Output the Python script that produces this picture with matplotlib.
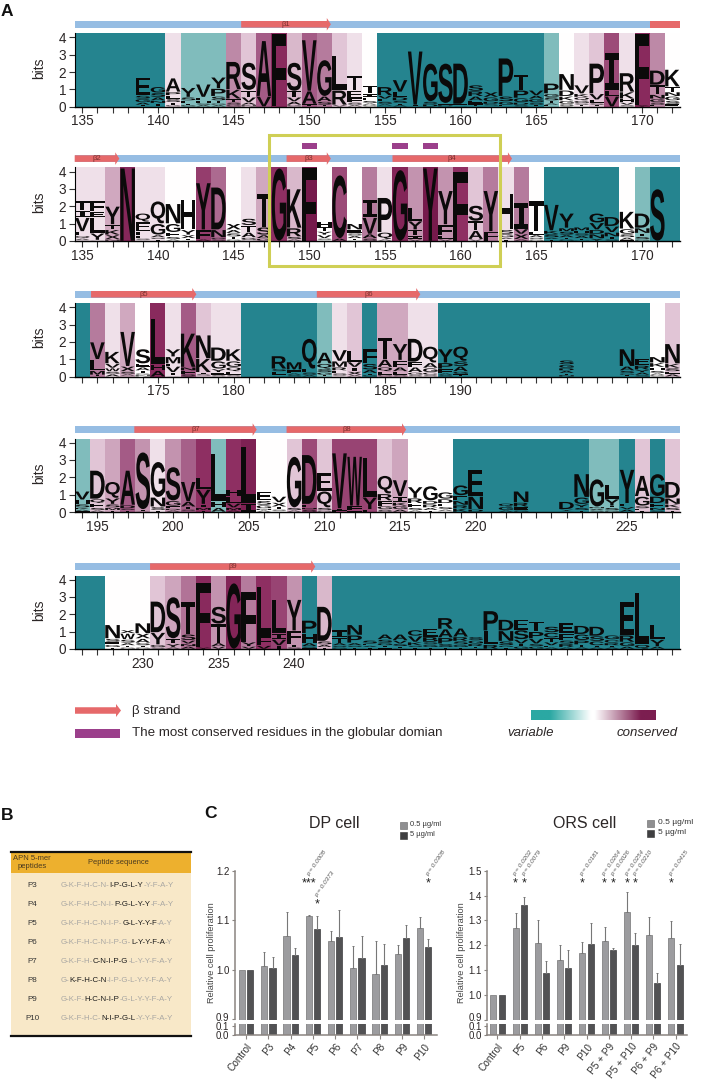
import numpy as np
import matplotlib
matplotlib.use("Agg")
import matplotlib.pyplot as plt
from matplotlib.colors import LinearSegmentedColormap
from matplotlib.font_manager import FontProperties
from matplotlib.patches import FancyArrow, PathPatch, Rectangle
from matplotlib.path import Path
from matplotlib.textpath import TextPath
from matplotlib.transforms import Affine2D, ScaledTranslation

plt.rcParams['font.family'] = ['Liberation Sans', 'DejaVu Sans']

# conservation shading per column: -1 variable ... 1 conserved
row1_shade = [-1, -1, -1, -1, -1, -1, .15, -.5, -.5, -.5, .55, .3, .7, .88, .35, .7, .6, .3, .15, 0,
              -1, -1, -1, -1, -1, -1, -1, -1, -1, -1, -1, -.5, 0, .15, .3, .75, .15, .88, .55, 0]
row2_shade = [.15, .15, .4, .9, .15, .15, 0, 0, .8, .65, 0, .15, .4, .85, .35, 1, 0, .75, 0, .6,
              .15, .92, .5, 1, .5, .85, .3, .6, .15, .6, 0, -1, -1, -1, -1, -1, 0, -.5, -1, -1]
row3_shade = [-1, .6, .15, .4, 0, .88, .15, .7, .3, .15, .15, -1, -1, -1, -1, -1, -.5, .15, .3, -1,
              .4, .4, .15, .15, -1, -1, -1, -1, -1, -1, -1, -1, -1, -1, -1, -1, -1, -1, 0, .3]
row4_shade = [-.5, .3, .42, .7, .5, .15, .5, .68, .85, -.5, .85, .95, 0, 0, .3, .75, .3, .78, .78, .78,
              .3, .42, 0, 0, 0, -1, -1, -1, -1, -1, -1, -1, -1, -1, -.5, -.5, -1, .3, -1, .3]
row5_shade = [-1, -1, 0, 0, 0, .3, .42, .62, .88, .5, .92, .6, .85, .78, .5, -1, .35, -1, -1, -1,
              -1, -1, -1, -1, -1, -1, -1, -1, -1, -1, -1, -1, -1, -1, -1, -1, -1, -1, -1, -1]

# logo stacks, top letter first, letter + height in bits
row1_logo = ["", "", "", "", "E1.05 S.2 G.2 A.15 T.1", "G.35 S.25 A.2 N.15 T.2", "A.8 P.2 E.2 S.2 T.15 G.1",
             "Y.55 S.2 E.15 T.1 G.1", "V.75 F.2 H.15 S.1 A.1", "Y.65 P.45 S.25 T.15 G.1 A.1",
             "R1.6 K.55 T.2 S.15 G.1", "S1.6 T.4 V.3 A.15 N.1", "A3.2 V.6", "F4.2", "S1.65 T.35 V.25 A.2 G.1",
             "V2.95 A.75 T.15", "G2.1 A.3 S.2 T.1", "L2 R.85 V.1", "T.85 E.45 F.25 S.15 A.1",
             "T.45 I.2 E.2 S.15 A.1 G.1", "R.5 V.2 L.15 S.15 A.1 T.05", "V.7 L.3 D.2 S.15 T.1 A.1", "V3.1 I.1",
             "G2.2 S.15 D.15", "S2.3 E.1 D.1", "D2.35 E.1 S.05", "S.35 R.3 A.25 E.2 T.15", "X.3 G.25 D.15 S.1 T.05",
             "P2.2 S.3 G.2 E.1", "T.9 P.45 G.25 D.15 S.1", "V.3 A.2 G.2 S.15 T.1", "P.6 G.2 S.2 T.15 A.1 E.1",
             "N.95 D.35 K.25 G.2 S.15", "V.5 K.2 Q.2 G.15 S.1 T.1", "P1.75 V.35 L.2 S.1 T.1", "I2.15 L.35 V.6",
             "R1.1 K.4 H.2 V.15 S.1", "F4.1 Y.1", "D.85 T.55 N.25 G.2 S.15 E.1", "K1 T.3 N.25 G.25 S.2 E.15"]
row2_logo = ["T.55 I.4 V.8 L.25 Q.15 A.1 S.05", "F.6 E.35 L.9 Y.4 G.05", "Y1.05 T.3 K.3 X.25 N.1", "N4.2",
             "Q.5 E.55 F.25 L.15 S.1 A.05", "Q1.3 G.65 A.15 S.1 T.1", "N1.15 G.5 E.25 S.15 A.1",
             "H1.75 Y.3 X.2 T.1 S.05", "Y2.7 F.55 A.1", "D2.45 N.45 G.1 S.1", "X.35 A.2 S.2 T.15 G.1",
             "S.4 T.4 A.3 G.15 N.05", "T1.95 S.45 A.2 G.15", "G4.2", "K2.25 R.5 S.15 A.1", "F4.2",
             "H.3 T.25 Y.2 V.2 S.1 A.05", "C3.65 A.15", "N.35 E.2 S.15 A.15 T.1 G.05", "I1.05 V.95 A.25 S.15",
             "P2 Q.4 A.1", "G4.1", "L.75 Y.5 T.35 I.2 V.1", "Y4.2", "Y1.95 F.65 L.2 V.1", "F4", "S.9 T.55 A.5 V.1",
             "Y2.35 F.55", "H2.1 S.25 G.2 A.1 T.1", "I1.5 V.3 X.3 A.1", "T1.75 L.2 A.15 S.1 G.1",
             "V1.5 K.2 S.2 A.1 T.1", "Y.85 M.2 S.2 A.15 T.1 G.1", "M.2 H.15 S.15 A.15 T.1 N.05",
             "G.55 V.4 D.25 N.25 Y.15", "D.55 V.35 N.25 T.15 S.1", "K1 G.3 S.2 A.15 T.05",
             "D.85 N.3 T.2 S.15 G.1", "S3", ""]
row3_logo = ["", "V1 L.65 M.25 T.1", "K.7 V.25 W.2 S.15 A.15", "V2 X.3 S.15 A.1 T.05", "S.85 E.2 A.2 T.15 G.1 N.1",
             "L2.65 H.35 A.35", "Y.45 M.4 F.15 V.35 I.2 A.05", "K1.95 N.2 F.2 S.15", "N1.35 K.8 I.1 S.1 T.05",
             "D.8 G.45 Y.2 E.15 S.1", "K.7 G.35 Q.25 E.2 S.1", "", "", "R.75 S.15 F.15 T.1 G.05", "M.45 F.2 A.1 S.1",
             "Q1.75 L.2 S.15 A.1", "A.65 Q.3 S.2 G.15 T.1", "V.65 M.35 R.2 L.15 S.15 A.05", "L.65 V.3 I.25 X.2 A.1",
             "F.85 S.35 A.2 T.1 G.1", "T1.25 A.45 Q.25 L.2 G.1", "Y.95 F.4 A.25 L.2 S.1", "D1.35 F.3 A.3 G.15 S.1",
             "Q.95 A.3 G.25 C.15 S.1", "Y.8 P.35 F.25 A.1 S.1", "Q.85 S.3 A.3 G.15 T.15", "", "", "", "", "", "",
             "S.25 G.2 D.15 A.15 T.1 N.1", "", "", "", "N1 A.25 S.15 G.1 T.1", "E.4 R.25 Y.15 A.15 S.1",
             "N.35 K.25 H.2 S.15 A.1 G.1", "N1.15 K.25 S.2 E.15 A.15"]
row4_logo = ["V.5 H.25 S.2 K.1 A.1 T.05", "D1.65 Q.25 E.25 S.15 A.1", "Q.95 Y.35 S.2 M.15 T.1", "A2 D.2 S.1 T.1",
             "S3.3 T.1 A.05", "G2.05 N.55 S.2 T.1", "S1.95 G.3 F.15 D.1 A.1", "V1.15 A.3 T.15 S.1 G.05", "L.7 Y.85 I.2 M.15 T.1",
             "L2.75 H.35 A.25", "H.4 L.4 V.25 M.15 A.1", "L3.25 I.5", "E.55 S.25 G.2 N.1 A.1", "V.35 X.25 T.15 S.1 A.05",
             "G2.95 S.15 A.1", "D2.85 E.2 N.1 S.15", "E1.05 Q.95 S.15 G.1", "V3.2 I.15 L.05", "W2.85 F.25 L.1",
             "L2.3 Y.7 F.15", "Q1.05 R.4 F.3 G.2 S.15", "V.95 I.35 K.2 G.2 A.15", "Y.65 R.3 E.25 S.15 A.1",
             "G.85 D.2 R.2 A.15 T.1", "G.4 D.25 E.2 S.15 A.1 N.05", "G.6 E.3 N.25 R.2 K.2", "E1.55 N.75 D.15", "", "Q.2 G.2 A.1",
             "N.65 R.25 E.2 G.1", "", "", "D.45 Y.1 S.05", "N1.35 G.4 Y.2 S.15 T.1", "G1.6 N.1 A.1 S.1", "L.85 Y.4 T.1 S.15 G.1",
             "Y1.95 L.2 V.15 A.15", "A1.2 G.55 S.15 E.1 T.1", "G1.3 D.4 E.25 N.15 S.1", "D.95 N.35 K.2 S.15 T.1"]
row5_logo = ["", "", "N.8 S.2 E.15 G.15 T.1", "X.2 W.35 S.2 A.15 T.1 G.1", "N.6 X.3 A.25 S.15 T.1 G.1",
             "D1.8 Y.7 G.15 S.1", "S2.4 T.3 Y.2 A.1", "T1.9 S.35 V.2 N.15 A.15", "F3.75 Y.1", "S1 T1.1 A.2 V.15",
             "G3.8", "F2.9 Y.25 V.15", "L2.9 F.5 V.2", "L1.95 I.35 V.35 T.2", "Y1.8 F.65 L.15 T.15 S.1",
             "P.75 H.55 A.2 S.1 T.05", "D2 S.2 A.15 T.1", "I.45 T.3 A.15 S.1 G.1", "N.6 P.45 A.15 S.1 T.1",
             "S.2 E.1 A.1 T.1", "A.3 S.2 G.15 T.1 E.1", "A.35 V.2 S.15 T.1 G.05", "C.35 V.35 K.2 S.1 T.1",
             "E.5 B.3 S.15 G.15 T.1", "R.65 A.5 P.35 S.2 T.1", "A.5 R.25 S.2 G.15 T.1", "S.2 G.2 R.15 T.1 A.05",
             "P1.15 L.8 R.25", "D.65 N.6 S.25 G.1 T.1", "E.6 S.55 V.25 T.15 G.15", "T.6 P.4 V.3 S.15 G.15",
             "S.35 C.3 T.25 V.2 E.1 A.1", "E.6 F.4 S.2 R.2 A.1", "D.5 G.35 P.25 T.15 A.1", "D.55 S.3 C.25 T.1 A.1",
             "G.25 C.2 R.15 T.1 A.1", "E1.95 R.4 G.25 A.15", "L3 Q.25", "L.85 Y.4 A.15", ""]

# tick labels: (column index, residue)
row1_labels = [(0, 135), (5, 140), (10, 145), (15, 150), (20, 155), (25, 160), (30, 165), (37, 170)]
row2_labels = [(0, 135), (5, 140), (10, 145), (15, 150), (20, 155), (25, 160), (30, 165), (37, 170)]
row3_labels = [(5, 175), (10, 180), (20, 185), (25, 190)]
row4_labels = [(1, 195), (6, 200), (11, 205), (16, 210), (21, 215), (26, 220), (36, 225)]
row5_labels = [(4, 230), (9, 235), (14, 240)]

# strands: (name, start edge, end edge, arrow head)
row1_strands = [("β1", 10.5, 16.43, True), ("", 37.5, 39.5, False)]
row2_strands = [("β2", -0.5, 2.45, True), ("β3", 13.5, 16.43, True), ("β4", 20.5, 28.4, True)]
row3_strands = [("β5", 0.58, 7.54, True), ("β6", 15.5, 22.34, True)]
row4_strands = [("β7", 3.44, 11.53, True), ("β8", 13.5, 21.4, True)]
row5_strands = [("β9", 4.48, 15.4, True)]
row2_conserved = [15, 21, 23]

row_top = [33.3, 167.5, 303, 438.5, 575.5]
row_base = [106.7, 241, 376.7, 512, 649]

# panel B
peptides = ["P3", "P4", "P5", "P6", "P7", "P8", "P9", "P10"]
seq_parts = [("G-K-F-H-C-N-", "I-P-G-L-Y", "-Y-F-A-Y"),
             ("G-K-F-H-C-N-I-", "P-G-L-Y-Y", "-F-A-Y"),
             ("G-K-F-H-C-N-I-P-", "G-L-Y-Y-F", "-A-Y"),
             ("G-K-F-H-C-N-I-P-G-", "L-Y-Y-F-A", "-Y"),
             ("G-K-F-H-", "C-N-I-P-G", "-L-Y-Y-F-A-Y"),
             ("G-", "K-F-H-C-N", "-I-P-G-L-Y-Y-F-A-Y"),
             ("G-K-F-", "H-C-N-I-P", "-G-L-Y-Y-F-A-Y"),
             ("G-K-F-H-C-", "N-I-P-G-L", "-Y-Y-F-A-Y")]

# panel C, bar value and top of error bar
dp_groups = ["Control", "P3", "P4", "P5", "P6", "P7", "P8", "P9", "P10"]
dp_low = [1.000, 1.008, 1.069, 1.109, 1.058, 1.005, 0.991, 1.032, 1.085]
dp_low_top = [1.000, 1.036, 1.118, 1.112, 1.078, 1.048, 1.058, 1.050, 1.108]
dp_high = [1.000, 1.005, 1.030, 1.082, 1.067, 1.025, 1.011, 1.065, 1.047]
dp_high_top = [1.000, 1.026, 1.044, 1.110, 1.121, 1.068, 1.052, 1.090, 1.062]
# (bar index, -1 low / 1 high, stars, star y, p value)
dp_marks = [(3, -1, "***", 1.178, "0.0008"), (3, 1, "*", 1.137, "0.0373"), (8, 1, "*", 1.178, "0.0308")]

ors_groups = ["Control", "P5", "P6", "P9", "P10", "P5 + P9", "P5 + P10", "P6 + P9", "P6 + P10"]
ors_low = [1.0, 1.27, 1.21, 1.14, 1.17, 1.218, 1.335, 1.243, 1.23]
ors_low_top = [1.0, 1.33, 1.30, 1.20, 1.213, 1.273, 1.415, 1.315, 1.298]
ors_high = [1.0, 1.362, 1.088, 1.108, 1.207, 1.182, 1.203, 1.048, 1.122]
ors_high_top = [1.0, 1.395, 1.138, 1.18, 1.29, 1.19, 1.248, 1.09, 1.205]
ors_marks = [(1, -1, "*", 1.455, "0.0202"), (1, 1, "*", 1.455, "0.0079"), (4, -1, "*", 1.455, "0.0181"),
             (5, -1, "*", 1.455, "0.0264"), (5, 1, "*", 1.455, "0.0026"), (6, -1, "*", 1.455, "0.0254"),
             (6, 1, "*", 1.455, "0.0210"), (8, -1, "*", 1.455, "0.0415")]

W, H = 709, 1079
fig = plt.figure(figsize=(W / 100, H / 100), dpi=100)

TEXT = '#2b2626'
RED = '#e6696a'
BLUE = '#96bde3'
PURPLE = '#9b3f8b'
nodes = [(-1, '#25848f'), (-.5, '#80bcbc'), (0, '#ffffff'), (.15, '#efe1e9'), (.3, '#e1c6d6'), (.4, '#d0a9c0'),
         (.55, '#bd8aa8'), (.7, '#a45c86'), (.85, '#8e2f62'), (1, '#761a4c')]
shade_cmap = LinearSegmentedColormap.from_list('shade', [((v + 1) / 2, c) for v, c in nodes])
letter_font = FontProperties(family='Liberation Sans', weight='bold')
# the sans I would fill its cell as a block, the logo has a serif one
serif_i_font = FontProperties(family='DejaVu Sans Mono', weight='bold')


def px_axes(left, top, right, bottom):
    return fig.add_axes([left / W, 1 - bottom / H, (right - left) / W, (bottom - top) / H])


def draw_letter(ax, ch, x, y, h):
    # stretch the glyph to fill its cell
    path = TextPath((0, 0), ch, size=1, prop=serif_i_font if ch == 'I' else letter_font)
    ext = path.get_extents()
    tr = Affine2D().translate(-ext.x0, -ext.y0).scale(0.96 / ext.width, h / ext.height).translate(x - 0.48, y)
    ax.add_patch(PathPatch(Path(path.vertices, path.codes), transform=tr + ax.transData,
                           fc='#0b0a0a', ec='none', clip_on=False))


def draw_logo(top, base, shade, logo, labels, strands):
    ax = px_axes(74.7, top, 680, base)
    x = np.arange(40)
    colors = shade_cmap((np.array(shade) + 1) / 2)
    ax.bar(x, 4.3, width=1, color=colors, linewidth=0)
    for i, col in enumerate(logo):
        stack = col.split()
        y = sum(float(s[1:]) for s in stack)
        for s in stack:
            h = float(s[1:])
            y -= h
            draw_letter(ax, s[0], i, y + 0.02, h - 0.04)
    ax.set_xlim(-0.5, 39.5)
    ax.set_ylim(0, (base - top) / 17.35)
    ax.set_xticks(x)
    ax.set_xticklabels([""] * 40)
    ax.set_yticks(range(5))
    ax.tick_params(axis='y', length=4, width=0.8, labelsize=9.8, pad=2, labelcolor=TEXT, color='#333333')
    ax.tick_params(axis='x', length=4, width=0.8, color='#333333')
    for idx, lab in labels:
        ax.text(idx, -0.85, str(lab), ha='center', va='center', fontsize=9.8, color=TEXT)
    ax.set_ylabel("bits", fontsize=10, color=TEXT)
    ax.yaxis.set_label_coords((46 - 74.7) / (680 - 74.7), 0.53)
    for s in ['top', 'right']:
        ax.spines[s].set_visible(False)
    ax.spines['bottom'].set_linewidth(1.0)
    ax.spines['left'].set_linewidth(0.8)
    # secondary structure bar
    yb = 4.75
    ax.add_patch(Rectangle((-0.5, yb - 0.19), 40, 0.38, fc=BLUE, ec='none', clip_on=False))
    for name, x0, x1, head in strands:
        if head:
            ax.add_patch(FancyArrow(x0, yb, x1 - x0, 0, width=0.38, head_width=0.72, head_length=0.27,
                                    length_includes_head=True, fc=RED, ec='none', clip_on=False))
        else:
            ax.add_patch(Rectangle((x0, yb - 0.19), x1 - x0, 0.38, fc=RED, ec='none', clip_on=False))
        if name:
            ax.text((x0 + x1) / 2, yb, name, ha='center', va='center', fontsize=5.5, color='#7a3030')
    return ax


shades = [row1_shade, row2_shade, row3_shade, row4_shade, row5_shade]
logos = [row1_logo, row2_logo, row3_logo, row4_logo, row5_logo]
labels = [row1_labels, row2_labels, row3_labels, row4_labels, row5_labels]
strands = [row1_strands, row2_strands, row3_strands, row4_strands, row5_strands]
logo_axes = []
for r in range(5):
    logo_axes.append(draw_logo(row_top[r], row_base[r], shades[r], logos[r], labels[r], strands[r]))

ax2 = logo_axes[1]
for c in row2_conserved:
    ax2.add_patch(Rectangle((c - 0.5, 5.33), 1, 0.33, fc=PURPLE, ec='none', clip_on=False))
ax2.add_patch(Rectangle((12.35, -1.43), 15.28, 7.52, fc='none', ec='#cfcf55', lw=2.2, clip_on=False, zorder=5))

# overlay for panel letters, legends and titles
ov = fig.add_axes([0, 0, 1, 1], zorder=10)
ov.set_xlim(0, W)
ov.set_ylim(H, 0)
ov.axis('off')
ov.patch.set_alpha(0)
ov.text(1, 11, "A", fontsize=12.5, fontweight='bold', va='center', color='#111111')
ov.text(1, 815, "B", fontsize=12.5, fontweight='bold', va='center', color='#111111')
ov.text(204, 814, "C", fontsize=12.5, fontweight='bold', va='center', color='#111111')

ov.add_patch(FancyArrow(75, 710.5, 46, 0, width=6.5, head_width=13, head_length=5,
                        length_includes_head=True, fc=RED, ec='none'))
ov.add_patch(Rectangle((75, 728.5), 45, 9.5, fc=PURPLE, ec='none'))
ov.text(132, 711, "β strand", fontsize=9.6, va='center', color=TEXT)
ov.text(132, 733, "The most conserved residues in the globular domian", fontsize=9.6, va='center', color=TEXT)
bar_cmap = LinearSegmentedColormap.from_list('legend', [(0, '#2ba8a3'), (.15, '#2ba8a3'), (.48, '#ffffff'),
                                                        (.51, '#ffffff'), (.88, '#7c1e50'), (1, '#7c1e50')])
ov.imshow(np.linspace(0, 1, 256).reshape(1, -1), cmap=bar_cmap, extent=(531, 656, 720, 710), aspect='auto')
ov.set_xlim(0, W)
ov.set_ylim(H, 0)
ov.text(530.5, 733, "variable", fontsize=9.5, style='italic', ha='center', va='center', color=TEXT)
ov.text(647, 733, "conserved", fontsize=9.5, style='italic', ha='center', va='center', color=TEXT)

# panel B table
tb = px_axes(11, 851.7, 191, 1035.7)
tb.set_xlim(11, 191)
tb.set_ylim(1035.7, 851.7)
tb.axis('off')
tb.add_patch(Rectangle((11, 851.7), 180, 21, fc='#edb02e', ec='none'))
tb.add_patch(Rectangle((11, 872.7), 180, 163, fc='#f8e8c8', ec='none'))
tb.plot([11, 191], [852, 852], color='#111111', lw=1.6, clip_on=False)
tb.plot([11, 191], [1035.5, 1035.5], color='#111111', lw=1.6, clip_on=False)
tb.text(32, 862.5, "APN 5-mer\npeptides", fontsize=5.5, ha='center', va='center', color='#4a3a20', linespacing=1.1)
tb.text(118, 863, "Peptide sequence", fontsize=5.4, ha='center', va='center', color='#4a3a20')
for i, (name, parts) in enumerate(zip(peptides, seq_parts)):
    y = 885.7 + 19 * i
    tb.text(32, y, name, fontsize=5.8, ha='center', va='center', color='#333333')
    t = tb.text(60.7, y, parts[0], fontsize=5.7, va='center', color='#a9a7a3')
    t = tb.annotate(parts[1], xy=(1, 0.5), xycoords=t, va='center', fontsize=5.7, color='#1c1c1c')
    tb.annotate(parts[2], xy=(1, 0.5), xycoords=t, va='center', fontsize=5.7, color='#a9a7a3')

GREY = '#8a8480'


def draw_bars(left, right, x_first, upper_lim, upper_ticks, y09, y_top, groups, low, low_top, high, high_top,
              marks, title, title_x, legend_x, legend_y, legend_size, label_x):
    unit = 22.25
    xlim = ((left - x_first) / unit, (right - x_first) / unit)
    up = px_axes(left, y_top, right, y09)
    lo = px_axes(left, 1024, right, 1034.6)
    x = np.arange(len(groups))
    for ax in (up, lo):
        ax.bar(x - 0.185, low, width=0.28, color='#9c9c9f', edgecolor='#747476', linewidth=0.5)
        ax.bar(x + 0.185, high, width=0.28, color='#525254', edgecolor='#3d3d3f', linewidth=0.5)
        ax.set_xlim(*xlim)
        for s in ['top', 'right']:
            ax.spines[s].set_visible(False)
        ax.spines['left'].set_color(GREY)
        ax.spines['left'].set_linewidth(1.1)
        ax.tick_params(axis='y', length=2.5, width=0.8, color=GREY, labelsize=7, pad=1.5, labelcolor=TEXT)
    err_low = np.array(low_top[1:]) - np.array(low[1:])
    err_high = np.array(high_top[1:]) - np.array(high[1:])
    up.errorbar(x[1:] - 0.185, low[1:], yerr=[np.zeros(len(err_low)), err_low], fmt='none', ecolor='#777777',
                elinewidth=0.8, capsize=1, capthick=0.7)
    up.errorbar(x[1:] + 0.185, high[1:], yerr=[np.zeros(len(err_high)), err_high], fmt='none', ecolor='#777777',
                elinewidth=0.8, capsize=1, capthick=0.7)
    up.set_ylim(*upper_lim)
    up.set_yticks(upper_ticks)
    up.set_yticklabels([f"{t:.1f}" for t in upper_ticks])
    up.set_xticks([])
    up.spines['bottom'].set_visible(False)
    up.patch.set_alpha(0)
    up.set_ylabel("Relative cell proliferation", fontsize=6.6, color='#444444')
    up.yaxis.set_label_coords((label_x + 4.5 - left) / (right - left), (y09 - 953) / (y09 - y_top))
    lo.set_ylim(0, 0.122)
    lo.set_yticks([0, 0.1])
    lo.set_yticklabels(["0.0", "0.1"])
    # keep the 0.9 and 0.1 labels apart at the break
    lab09 = up.get_yticklabels()[0]
    lab09.set_transform(lab09.get_transform() + ScaledTranslation(0, 2 / 72, fig.dpi_scale_trans))
    lo.set_xticks(x)
    lo.set_xticklabels(groups, rotation=52, ha='right', rotation_mode='anchor', fontsize=7.2, color='#333333')
    lo.tick_params(axis='x', length=3, width=0.8, color=GREY, pad=2)
    lo.spines['bottom'].set_color(GREY)
    lo.spines['bottom'].set_linewidth(1.1)
    step = (upper_lim[1] - upper_lim[0]) / (y09 - y_top)
    for i, side, stars, ys, pval in marks:
        xs = i + side * 0.185
        up.text(xs, ys - 2 * step, stars, ha='center', va='center', fontsize=9, color='#222222', clip_on=False)
        up.text(xs - 0.05, ys + 6 * step, "p = " + pval, fontsize=4.6, color='#555555', style='italic', rotation=55,
                rotation_mode='anchor', ha='left', va='center', clip_on=False)
    ov.text(title_x, 823, title, fontsize=11.5, ha='center', va='center', color=TEXT)
    ov.add_patch(Rectangle((legend_x, legend_y - 3.5), 6.5, 7, fc='#8f8f91', ec='#666666', lw=0.4))
    ov.add_patch(Rectangle((legend_x, legend_y + 6.5), 6.5, 7, fc='#3f3f41', ec='#333333', lw=0.4))
    ov.text(legend_x + 10.5, legend_y, "0.5 µg/ml", fontsize=legend_size, va='center', color='#333333')
    ov.text(legend_x + 10.5, legend_y + 10, "5 µg/ml", fontsize=legend_size, va='center', color='#333333')


draw_bars(235, 436.7, 246.2, (0.9, 1.2), [0.9, 1.0, 1.1, 1.2], 1019.5, 871, dp_groups, dp_low, dp_low_top,
          dp_high, dp_high_top, dp_marks, "DP cell", 334, 400, 825, 5.4, 212)
draw_bars(487.3, 687.3, 497.5, (0.9, 1.5), [0.9, 1.0, 1.1, 1.2, 1.3, 1.4, 1.5], 1020, 870.7, ors_groups, ors_low,
          ors_low_top, ors_high, ors_high_top, ors_marks, "ORS cell", 585, 647, 823, 6, 462)

fig.savefig('out.png', dpi=100)
